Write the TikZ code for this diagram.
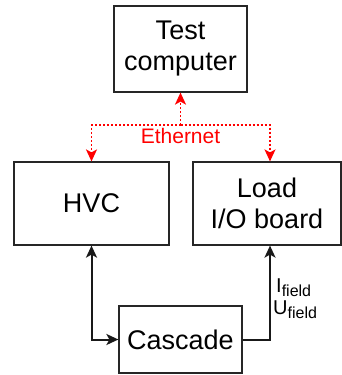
\documentclass[tikz,border=0pt]{standalone}
\usepackage{fontspec}
\setmainfont{Liberation Sans}
\usetikzlibrary{arrows.meta}
\newcommand{\sublabel}[2]{#1{\fontsize{16}{16}\selectfont\raisebox{-4pt}{#2}}}
\begin{document}
\begin{tikzpicture}[x=1pt,y=-1pt,
  box/.style={draw=black!85, line width=1.2pt, fill=white, inner sep=0pt,
    align=center, font=\fontsize{27}{31}\selectfont},
  link/.style={line width=2pt, black!90},
  tip/.style={-{Stealth[length=12pt,width=11pt,inset=3pt]}},
  eth/.style={red, line width=1.6pt, dash pattern=on 2pt off 2pt,
    -{Stealth[length=12pt,width=11pt,inset=3pt]}},
  sig/.style={anchor=base west, inner sep=0pt, font=\fontsize{20}{23}\selectfont}
]
\useasboundingbox (0,0) rectangle (342,375);

% blocks
\node[box, minimum width=133pt, minimum height=86pt] (test) at (180.5,49) {Test\\computer};
\node[box, minimum width=155pt, minimum height=83pt] (hvc) at (91.5,203.5) {HVC};
\node[box, minimum width=148pt, minimum height=83pt] (load) at (267,203.5) {Load\\I/O board};
\node[box, minimum width=123pt, minimum height=67pt] (casc) at (180.5,339.5) {Cascade};

% Ethernet bus
\coordinate (bus) at (180.5,125);
\draw[eth] (bus) -- (test.south);
\draw[eth] (bus) -| (hvc.north);
\draw[eth] (bus) -| ([xshift=3pt]load.north);
\node[red, anchor=base, inner sep=0pt, font=\fontsize{21}{24}\selectfont] (ethl) at (180.5,143) {Ethernet};

% cascade links
\draw[link, {Stealth[length=12pt,width=11pt,inset=3pt]}-{Stealth[length=12pt,width=11pt,inset=3pt]}] (hvc.south) |- (casc.west);
\draw[link, tip] (casc.east) -| ([xshift=3pt]load.south);

% field signals
\node[sig] (ifield) at (276,292) {\sublabel{I}{field}};
\node[sig] (ufield) at (273,314) {\sublabel{U}{field}};
\end{tikzpicture}
\end{document}
